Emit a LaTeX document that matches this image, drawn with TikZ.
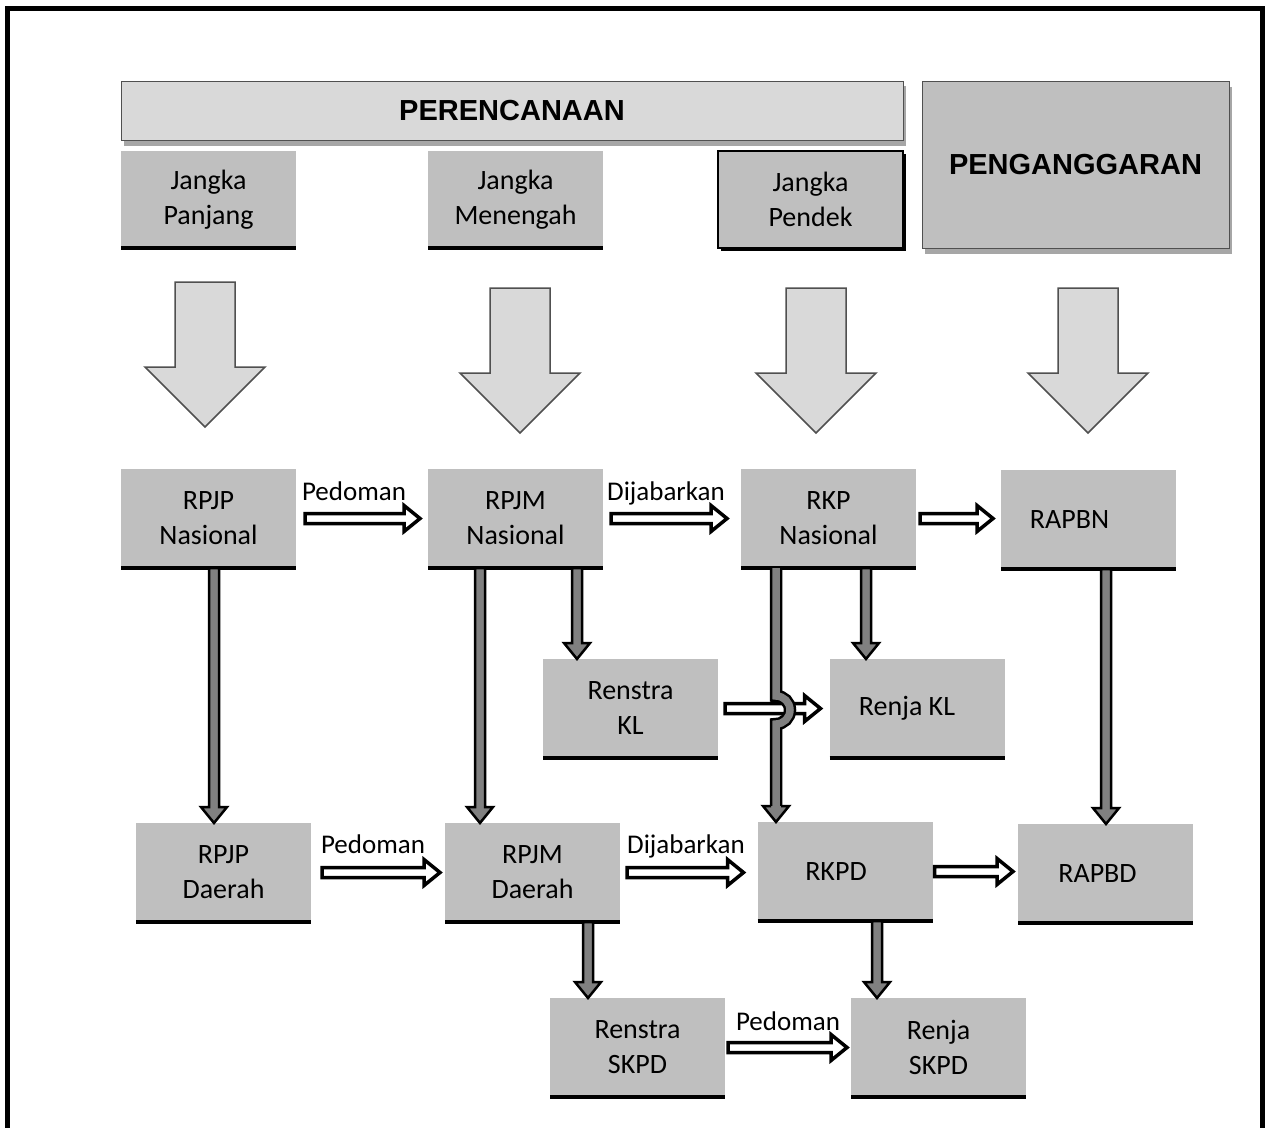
\documentclass[tikz,border=0pt]{standalone}
\usepackage{fontspec}
\setmainfont{Carlito}
\newfontfamily\headfont{Liberation Sans}
\usetikzlibrary{calc}

\definecolor{boxgray}{HTML}{BFBFBF}
\definecolor{hdrgray}{HTML}{D9D9D9}
\definecolor{arrgray}{HTML}{808080}
\definecolor{shadowgray}{HTML}{A6A6A6}
\definecolor{edgegray}{HTML}{505050}

\newcommand{\bodyfont}{\fontsize{28}{35}\selectfont}
\newcommand{\lblfont}{\fontsize{27}{32}\selectfont}

% hollow arrow between two boxes: from, to, start gap, end gap
\newcommand{\hollowarr}[4]{%
  \draw[hollow] let \p1=(#1), \p2=(#2) in
    (\x1+#3pt,\y1+5pt) -- (\x2-#4pt-16pt,\y1+5pt) -- (\x2-#4pt-16pt,\y1+13pt) -- (\x2-#4pt,\y1)
    -- (\x2-#4pt-16pt,\y1-13pt) -- (\x2-#4pt-16pt,\y1-5pt) -- (\x1+#3pt,\y1-5pt) -- cycle;}
% dark gray down arrow at x from box to box
\newcommand{\grayarr}[3]{%
  \draw[solidarr] let \p1=(#2.south), \p2=(#3.north) in
    (#1pt-5pt,\y1) -- (#1pt-5pt,\y2+16pt) -- (#1pt-13pt,\y2+16pt) -- (#1pt,\y2)
    -- (#1pt+13pt,\y2+16pt) -- (#1pt+5pt,\y2+16pt) -- (#1pt+5pt,\y1) -- cycle;}

\begin{document}
\begin{tikzpicture}[x=1pt,y=-1pt,
    box/.style={fill=boxgray, minimum width=175pt, minimum height=99pt, inner sep=0pt, outer sep=0pt, align=center, font=\bodyfont},
    hdr/.style={draw=edgegray, line width=1pt, inner sep=0pt, outer sep=0pt, font=\headfont\bfseries\fontsize{29}{34}\selectfont},
    lbl/.style={inner sep=0pt, font=\lblfont},
    bottomline/.style={line width=3.5pt, black},
    hollow/.style={fill=white, draw=black, line width=3.5pt},
    solidarr/.style={fill=arrgray, draw=black, line width=2.5pt},
    bigarr/.style={fill=hdrgray, draw=edgegray, line width=1.5pt}]
  \useasboundingbox (0,0) rectangle (1266,1127);

  %Frame
  \draw [line width=5pt] (7,1140) -- (7,8) -- (1262,8) -- (1262,1140);

  %Headers
  \fill [shadowgray] (124,86) rectangle (906,146);
  \node [hdr, fill=hdrgray, minimum width=782pt, minimum height=59pt] (plan) at (512,110.5) {PERENCANAAN};
  \fill [shadowgray] (925,87) rectangle (1232,254);
  \node [hdr, fill=boxgray, minimum width=307pt, minimum height=167pt] (budget) at (1075.5,164.5) {PENGANGGARAN};

  \node [box, minimum height=97pt] (jpanjang) at (208.5,199.5) {Jangka\\Panjang};
  \node [box, minimum height=97pt] (jmenengah) at (515.5,199.5) {Jangka\\Menengah};
  \fill (721,154) rectangle (906,251);
  \node [box, minimum width=185pt, minimum height=97pt, draw=black, line width=1.5pt] (jpendek) at (810.5,199.5) {Jangka\\Pendek};

  %Big arrows
  \foreach \cx/\ty in {205/282,520/288,816/288,1088/288}
    \draw [bigarr] (\cx-30,\ty) -- (\cx-30,\ty+85) -- (\cx-60,\ty+85) -- (\cx,\ty+145)
      -- (\cx+60,\ty+85) -- (\cx+30,\ty+85) -- (\cx+30,\ty) -- cycle;

  %Boxes
  \node [box] (rpjpn) at (208.5,518.5) {RPJP\\Nasional};
  \node [box] (rpjmn) at (515.5,518.5) {RPJM\\Nasional};
  \node [box] (rkpn) at (828.5,518.5) {RKP\\Nasional};
  \node [box] (rapbn) at (1088.5,519.5) {\hspace*{-38pt}RAPBN};
  \node [box] (renstrakl) at (630.5,708.5) {Renstra\\KL};
  \node [box] (renjakl) at (917,708.5) {\hspace*{-20pt}Renja KL};
  \node [box] (rpjpd) at (223.5,872.5) {RPJP\\Daerah};
  \node [box] (rpjmd) at (532.5,872.5) {RPJM\\Daerah};
  \node [box] (rkpd) at (845,871.5) {\hspace*{-18pt}RKPD};
  \node [box] (rapbd) at (1105.5,873.5) {\hspace*{-16pt}RAPBD};
  \node [box] (renstraskpd) at (637.5,1047.5) {Renstra\\SKPD};
  \node [box] (renjaskpd) at (938.5,1047.5) {Renja\\SKPD};

  \foreach \n in {jpanjang,jmenengah,rpjpn,rpjmn,rkpn,rapbn,renstrakl,renjakl,rpjpd,rpjmd,rkpd,rapbd,renstraskpd,renjaskpd}
    \draw [bottomline] (\n.south west) -- (\n.south east);

  %Hollow arrows
  \hollowarr{rpjpn.east}{rpjmn.west}{9}{8}
  \hollowarr{rpjmn.east}{rkpn.west}{8}{14}
  \hollowarr{rkpn.east}{rapbn.west}{4}{8}
  \hollowarr{renstrakl.east}{renjakl.west}{7}{9}
  \hollowarr{rpjpd.east}{rpjmd.west}{11}{5}
  \hollowarr{rpjmd.east}{rkpd.west}{7}{14}
  \hollowarr{rkpd.east}{rapbd.west}{2}{5}
  \hollowarr{renstraskpd.east}{renjaskpd.west}{3}{4}

  % Text Node
  \node [lbl] (ped1) at (354,491) {Pedoman};
  \node [lbl] (dij1) at (666,493) {Dijabarkan};
  \node [lbl] (ped2) at (373,844) {Pedoman};
  \node [lbl] (dij2) at (686,846) {Dijabarkan};
  \node [lbl] (ped3) at (788,1021) {Pedoman};

  %Gray arrows
  \grayarr{214}{rpjpn}{rpjpd}
  \grayarr{480}{rpjmn}{rpjmd}
  \grayarr{577}{rpjmn}{renstrakl}
  \grayarr{866}{rkpn}{renjakl}
  \grayarr{1106}{rapbn}{rapbd}
  \grayarr{588}{rpjmd}{renstraskpd}
  \grayarr{877}{rkpd}{renjaskpd}

  %Gray arrow with hop
  \coordinate (hop) at (776,710);
  \foreach \w/\c in {12.5pt/black,7.5pt/arrgray}
    \draw [line width=\w, draw=\c] let \p1=(rkpn.south), \p2=(rkpd.north), \p3=(hop) in
      (\x3,\y1) -- (\x3,\y3+14pt) arc[start angle=90, end angle=-90, radius=14pt] -- (\x3,\y2+14pt);
  \filldraw [solidarr] let \p2=(rkpd.north), \p3=(hop) in
    (\x3-5pt,\y2+16pt) -- (\x3-13pt,\y2+16pt) -- (\x3,\y2) -- (\x3+13pt,\y2+16pt) -- (\x3+5pt,\y2+16pt);
\end{tikzpicture}
\end{document}
